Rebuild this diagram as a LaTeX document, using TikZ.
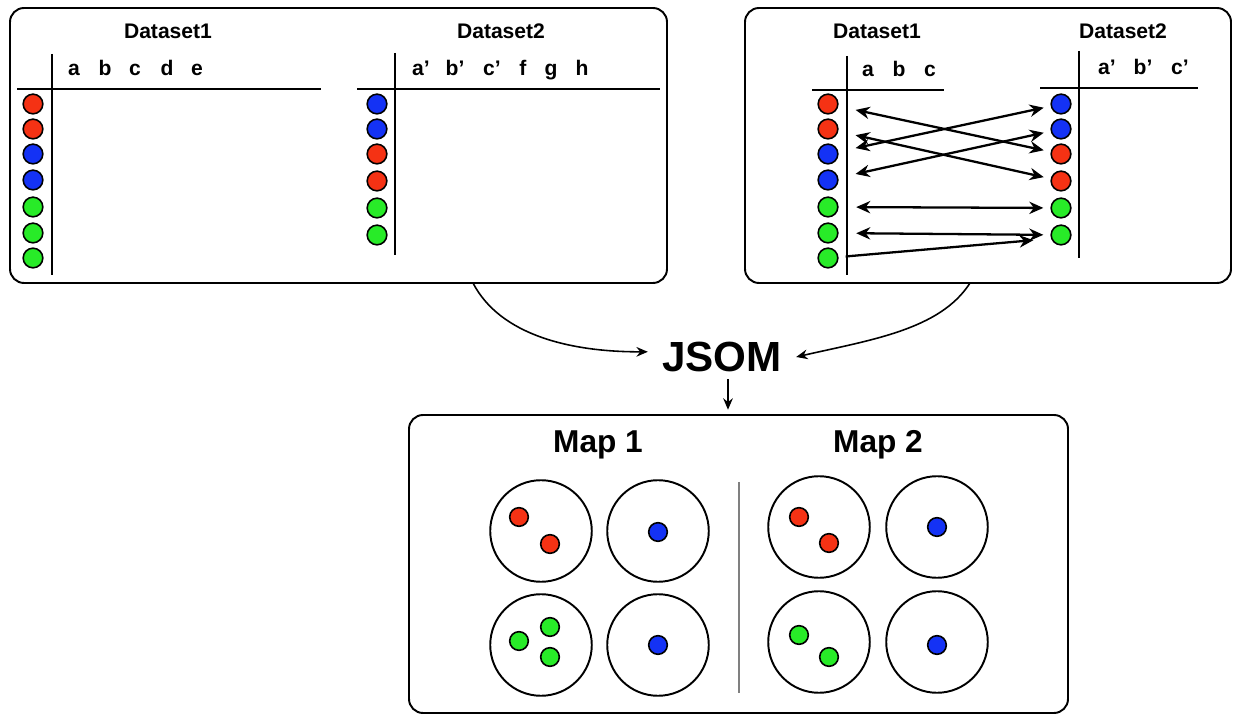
\documentclass[tikz,border=0pt]{standalone}
\usepackage{fontspec}
\setmainfont{Liberation Sans}
\usetikzlibrary{arrows.meta}
\definecolor{dred}{RGB}{245,50,20}
\definecolor{dblue}{RGB}{20,50,245}
\definecolor{dgreen}{RGB}{40,235,40}
\tikzset{
  panel/.style={draw, line width=1.1pt, rounded corners=8pt},
  rule/.style={line width=1.4pt},
  dot/.style={circle, draw, line width=0.9pt, fill=#1, inner sep=0pt, minimum size=11.2pt},
  mdot/.style={circle, draw, line width=0.9pt, fill=#1, inner sep=0pt, minimum size=10.6pt},
  unit/.style={circle, draw, line width=1.1pt, inner sep=0pt, minimum size=57.8pt},
  title/.style={anchor=base, font=\fontsize{12}{14}\selectfont\bfseries},
  col/.style={anchor=base, font=\fontsize{12}{14}\selectfont\bfseries},
  link/.style={{Stealth[length=8pt,width=7pt]}-{Stealth[length=8pt,width=7pt]}, line width=1.3pt, shorten <=10pt, shorten >=4pt},
}
\begin{document}
\begin{tikzpicture}[x=0.02cm, y=-0.02cm, >={Stealth[length=6.5pt,width=5.5pt]}]
  \useasboundingbox (0,0) rectangle (1234,715);
  \draw[panel] (10,8) rectangle (667,283);
  \draw[panel] (745,8) rectangle (1231,283);
  \draw[panel] (409,415) rectangle (1068,713);
  \node[title] (t1) at (168,39) {Dataset1};
  \node[title] (t2) at (501,39) {Dataset2};
  \node[title] (t3) at (877,39) {Dataset1};
  \node[title] (t4) at (1123,39) {Dataset2};
  \draw[rule] (52,54) -- (52,275) (17,89) -- (321,89);
  \draw[rule] (395,53) -- (395,255) (357,89) -- (660,89);
  \draw[rule] (847,56) -- (847,275) (812,90) -- (944,90);
  \draw[rule] (1079,51) -- (1079,258) (1040,88) -- (1198,88);
  \node[col] (la) at (74,76) {a};
  \node[col] (lb) at (105,76) {b};
  \node[col] (lc) at (135,76) {c};
  \node[col] (ld) at (167,76) {d};
  \node[col] (le) at (197,76) {e};
  \node[col] (lap) at (421,76) {a'};
  \node[col] (lbp) at (455,76) {b'};
  \node[col] (lcp) at (492,76) {c'};
  \node[col] (lf) at (523,76) {f};
  \node[col] (lg) at (551,76) {g};
  \node[col] (lh) at (582,76) {h};
  \node[col] (ra) at (868,77) {a};
  \node[col] (rb) at (899,77) {b};
  \node[col] (rc) at (930,77) {c};
  \node[col] (rap) at (1107,75) {a'};
  \node[col] (rbp) at (1143,75) {b'};
  \node[col] (rcp) at (1180,75) {c'};
  \foreach \c/\y [count=\i] in {dred/104,dred/129,dblue/154,dblue/180,dgreen/207,dgreen/233,dgreen/258}{
    \node[dot=\c] (lx\i) at (33,\y) {};
    \node[dot=\c] (rx\i) at (828,\y) {};
  }
  \foreach \c/\y [count=\i] in {dblue/104,dblue/129,dred/154,dred/181,dgreen/208,dgreen/235}{
    \node[dot=\c] (ly\i) at (377,\y) {};
    \node[dot=\c] (ry\i) at (1061,\y) {};
  }
  \draw[link] (rx1) -- (ry3);
  \draw[link] (rx2) -- (ry4);
  \draw[link] (rx3) -- (ry1);
  \draw[link] (rx4) -- (ry2);
  \draw[link] (rx5) -- (ry5);
  \draw[link] (rx6) -- (ry6);
  \draw[link, {Stealth[length=8pt,width=7pt]}-] (ry6.200) -- (rx7);
  \node[font=\fontsize{24}{28}\selectfont\bfseries, inner xsep=8pt, inner ysep=4pt] (jsom) at (722,357) {JSOM};
  \coordinate (lout) at (473,283);
  \coordinate (rout) at (970,283);
  \coordinate (mtop) at (728,415);
  \draw[->, line width=0.9pt] (lout) .. controls (500,335) and (570,352) .. (jsom.176);
  \draw[->, line width=0.9pt] (rout) .. controls (940,330) and (870,340) .. (jsom.east);
  \draw[->, line width=0.9pt, shorten >=3pt] (jsom.south -| mtop) -- (mtop);
  \node[anchor=base, font=\fontsize{18}{22}\selectfont\bfseries] (map1) at (598,453) {Map 1};
  \node[anchor=base, font=\fontsize{18}{22}\selectfont\bfseries] (map2) at (878,453) {Map 2};
  \draw[gray, line width=0.6pt] (739,482) -- (739,693);
  \node[unit] (m1a) at (541,531) {};
  \node[unit] (m1b) at (658,531) {};
  \node[unit] (m1c) at (541,645) {};
  \node[unit] (m1d) at (658,645) {};
  \node[unit] (m2a) at (819,527) {};
  \node[unit] (m2b) at (937,527) {};
  \node[unit] (m2c) at (819,642) {};
  \node[unit] (m2d) at (937,642) {};
  \node[mdot=dred] (m1a1) at (519,517) {};
  \node[mdot=dred] (m1a2) at (550,544) {};
  \node[mdot=dblue] (m1b1) at (658,532) {};
  \node[mdot=dgreen] (m1c1) at (519,641) {};
  \node[mdot=dgreen] (m1c2) at (550,627) {};
  \node[mdot=dgreen] (m1c3) at (550,657) {};
  \node[mdot=dblue] (m1d1) at (658,645) {};
  \node[mdot=dred] (m2a1) at (799,517) {};
  \node[mdot=dred] (m2a2) at (829,543) {};
  \node[mdot=dblue] (m2b1) at (937,527) {};
  \node[mdot=dgreen] (m2c1) at (799,635) {};
  \node[mdot=dgreen] (m2c2) at (829,657) {};
  \node[mdot=dblue] (m2d1) at (937,645) {};
\end{tikzpicture}
\end{document}
